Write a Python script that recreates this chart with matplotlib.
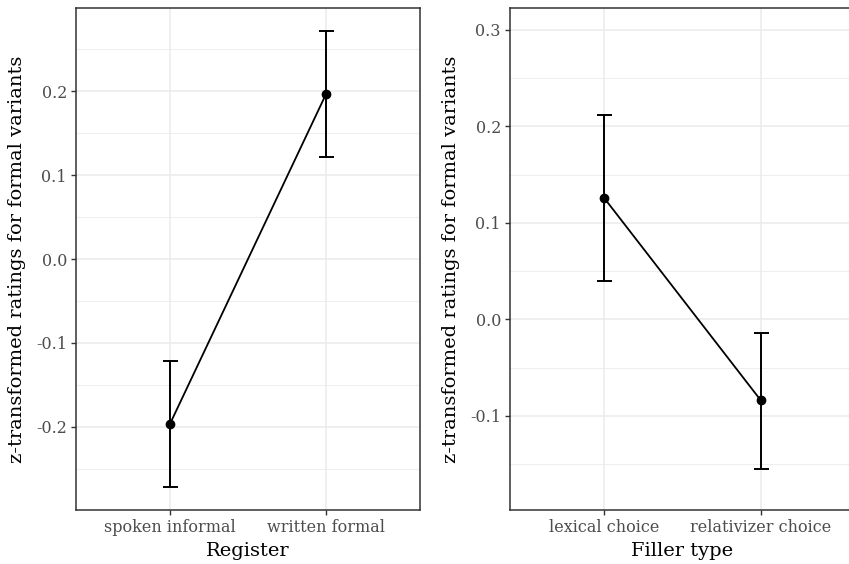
import numpy as np
import matplotlib.pyplot as plt
from matplotlib.ticker import MultipleLocator

# datos
reg_cats = ['spoken informal', 'written formal']
reg_mean = [-0.197, 0.197]
reg_lo = [-0.272, 0.122]
reg_hi = [-0.122, 0.272]

fil_cats = ['lexical choice', 'relativizer choice']
fil_mean = [0.126, -0.084]
fil_lo = [0.040, -0.155]
fil_hi = [0.212, -0.014]

ylab = 'z-transformed ratings for formal variants'

plt.rcParams['font.family'] = ['DejaVu Serif']

fig = plt.figure(figsize=(8.49, 5.64), dpi=100)
ax1 = fig.add_axes([76/849, 1-510/564, 344/849, 502/564])
ax2 = fig.add_axes([510/849, 1-510/564, 345/849, 502/564])


def panel(ax, cats, mean, lo, hi, xlabel, ylim, major):
    x = np.arange(1, len(cats)+1)
    mean = np.array(mean)
    err = [mean-np.array(lo), np.array(hi)-mean]
    ax.plot(x, mean, color='black', lw=1.3, zorder=3)
    ax.errorbar(x, mean, yerr=err, fmt='o', color='black', ms=6,
                capsize=5.4, elinewidth=1.4, capthick=1.4, zorder=4)
    ax.set_xlim(0.4, 2.6)
    ax.set_ylim(*ylim)
    ax.set_xticks(x)
    ax.set_xticklabels(cats)
    ax.yaxis.set_major_locator(MultipleLocator(major))
    ax.yaxis.set_minor_locator(MultipleLocator(major/2))
    ax.yaxis.set_major_formatter(lambda v, p: '%.1f' % v)
    ax.grid(which='major', color='#ebebeb', lw=1.1, zorder=0)
    ax.grid(which='minor', axis='y', color='#ebebeb', lw=0.6, zorder=0)
    ax.set_axisbelow(True)
    ax.tick_params(which='major', length=3.5, width=1, color='#333333',
                   labelsize=11.5, labelcolor='#4d4d4d', pad=3)
    ax.tick_params(which='minor', length=0)
    for s in ax.spines.values():
        s.set_color('#333333')
        s.set_linewidth(1.1)
    ax.set_xlabel(xlabel, fontsize=14, labelpad=4)
    ax.set_ylabel(ylab, fontsize=14, labelpad=7)


panel(ax1, reg_cats, reg_mean, reg_lo, reg_hi, 'Register', (-0.2992, 0.2992), 0.1)
panel(ax2, fil_cats, fil_mean, fil_lo, fil_hi, 'Filler type', (-0.1975, 0.3228), 0.1)

plt.savefig('out.png', dpi=100)
